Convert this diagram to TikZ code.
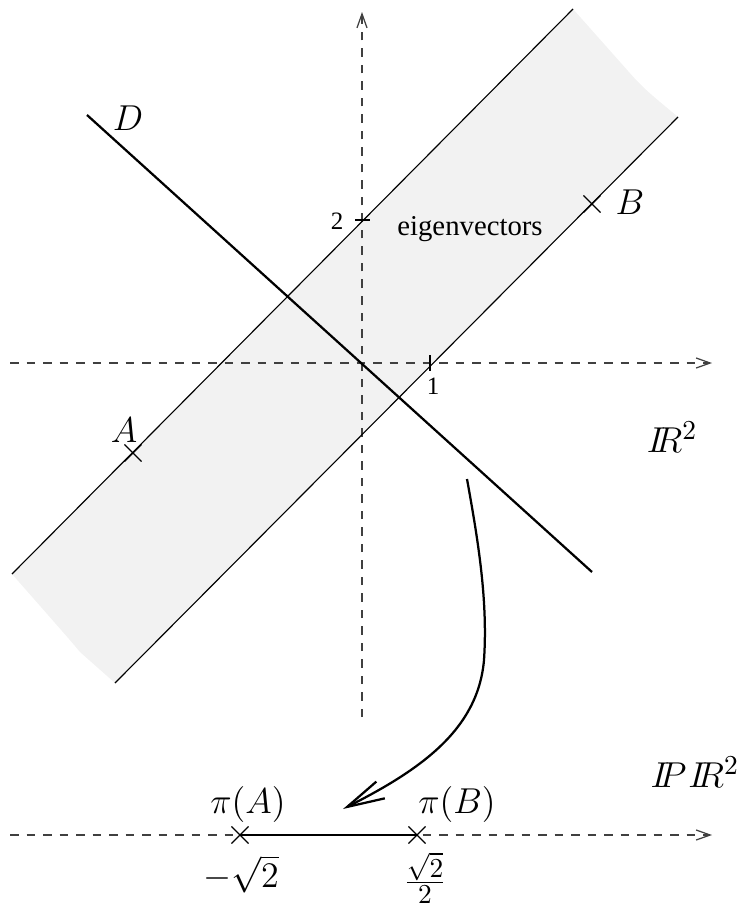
\documentclass[tikz,border=0pt]{standalone}
\usepackage[no-math]{fontspec}
\newfontfamily\timesfont{Liberation Serif}
\usetikzlibrary{arrows.meta, shapes.misc}
\newcommand{\Rset}{I\mkern-5mu R}
\newcommand{\Pset}{I\mkern-5mu P}

\begin{document}
\begin{tikzpicture}[x=0.4pt, y=-0.4pt,
  axis/.style={draw=black!75, line width=0.5pt, dash pattern=on 3.4pt off 3.2pt, -{Straight Barb[length=5.6pt, width=4pt]}},
  edge/.style={line width=0.45pt},
  dline/.style={line width=0.9pt},
  xmark/.style={draw, cross out, minimum size=6.4pt, inner sep=0pt, line width=0.45pt},
  lbl/.style={font=\fontsize{15}{18}\selectfont},
  txt/.style={font=\timesfont\fontsize{10}{12}\selectfont}
]
  \useasboundingbox (0,0) rectangle (736,907);

  % points of the plane
  \coordinate (O) at (362,363);
  \coordinate (xl) at (10,363);
  \coordinate (xr) at (712,363);
  \coordinate (yb) at (362,717);
  \coordinate (yt) at (362,12);
  \coordinate (u1) at (12,574);
  \coordinate (u2) at (573,9);
  \coordinate (l1) at (115,683);
  \coordinate (l2) at (678,117);
  \coordinate (d1) at (87,115);
  \coordinate (d2) at (592,572);

  % band of eigenvectors
  \fill[gray!10] (u1) -- (u2) -- (636,80) .. controls (648,92) .. (l2)
    -- (l1) -- (80,652) .. controls (70,640) .. (u1) -- cycle;

  % axes
  \draw[axis] (xl) -- (xr);
  \draw[axis] (yb) -- (yt);
  \draw[edge] (430,355) -- (430,371);
  \draw[edge] (355,220) -- (370,220);
  \node[txt] (one) at (433,386) {1};
  \node[txt] (two) at (337,221) {2};

  \draw[edge] (u1) -- (u2);
  \draw[edge] (l1) -- (l2);
  \draw[dline] (d1) -- (d2);

  \node[txt, font=\timesfont\fontsize{11.5}{13}\selectfont] (eig) at (470,229) {eigenvectors};
  \node[lbl] (D) at (128,118) {$D$};
  \node[xmark] (A) at (133,453) {};
  \node[lbl] (Alab) at (124,430) {$A$};
  \node[xmark] (B) at (592,204) {};
  \node[lbl] (Blab) at (630,202) {$B$};
  \node[lbl] (R2) at (672,437) {$\Rset^2$};

  % projective line
  \coordinate (pl) at (10,835);
  \coordinate (pr) at (712,835);
  \draw[axis] (pl) -- (pr);
  \node[xmark] (pA) at (240,835) {};
  \node[xmark] (pB) at (417,835) {};
  \draw[dline] (pA.center) -- (pB.center);
  \node[lbl] (pAlab) at (248,804) {$\pi(A)$};
  \node[lbl] (pBlab) at (457,804) {$\pi(B)$};
  \node[lbl] (mA) at (241,874) {$-\sqrt{2}$};
  \node[lbl] (mB) at (425,878) {$\frac{\sqrt{2}}{2}$};
  \node[lbl, anchor=west, inner sep=0pt] (PR2) at (650,772) {$\Pset\mkern1mu\Rset^2$};

  % projection
  \coordinate (c1) at (467,479);
  \coordinate (c2) at (484,660);
  \coordinate (c3) at (343,809);
  \draw[dline, -{Straight Barb[length=15pt, width=7.5pt]}] (c1) .. controls (478,540) and (488,600) .. (c2)
    .. controls (478,730) and (420,770) .. (c3);
\end{tikzpicture}
\end{document}
